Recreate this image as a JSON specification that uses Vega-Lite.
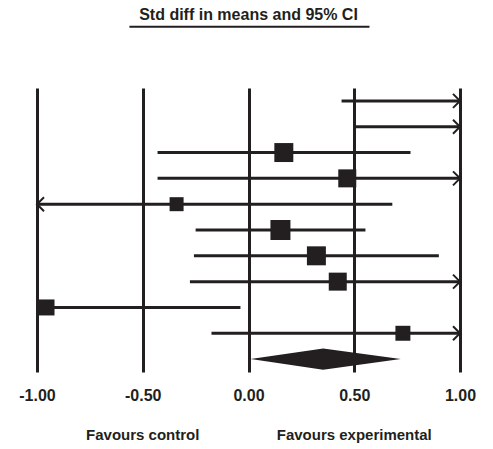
{
  "$schema": "https://vega.github.io/schema/vega-lite/v6.json",
  "width": 423,
  "height": 284,
  "autosize": {"type": "none"},
  "padding": {"left": 37, "top": 88, "right": 33, "bottom": 77},
  "background": "white",
  "config": {"view": {"stroke": null}, "font": "Liberation Sans"},
  "datasets": {
    "studies": [
      {"row": 1, "est": null, "lo": 0.44, "hi": 1.6, "w": null},
      {"row": 2, "est": null, "lo": 0.5, "hi": 1.6, "w": null},
      {"row": 3, "est": 0.167, "lo": -0.43, "hi": 0.766, "w": 9.0},
      {"row": 4, "est": 0.467, "lo": -0.43, "hi": 1.3, "w": 8.1},
      {"row": 5, "est": -0.34, "lo": -1.3, "hi": 0.68, "w": 4.9},
      {"row": 6, "est": 0.151, "lo": -0.25, "hi": 0.553, "w": 10.0},
      {"row": 7, "est": 0.321, "lo": -0.258, "hi": 0.9, "w": 9.0},
      {"row": 8, "est": 0.422, "lo": -0.277, "hi": 1.3, "w": 8.1},
      {"row": 9, "est": -0.955, "lo": -0.99, "hi": -0.038, "w": 6.4},
      {"row": 10, "est": 0.73, "lo": -0.175, "hi": 1.3, "w": 5.6}
    ],
    "summary": [
      {"x": 0.01, "top": 11, "bot": 11},
      {"x": 0.353, "top": 10.59, "bot": 11.41},
      {"x": 0.72, "top": 11, "bot": 11}
    ],
    "sides": [
      {"x": -0.5, "row": 13.94, "label": "Favours control"},
      {"x": 0.5, "row": 13.94, "label": "Favours experimental"}
    ],
    "heading": [
      {"x": 0.0, "row": -2.33, "label": "Std diff in means and 95% CI"}
    ],
    "underline": [
      {"x": -0.563, "x2": 0.572, "row": -1.87}
    ]
  },
  "layer": [
    {
      "data": {"name": "studies"},
      "mark": {"type": "rule", "strokeWidth": 3, "color": "#231f20"},
      "encoding": {
        "x": {
          "field": "lo", "type": "quantitative",
          "scale": {"domain": [-1, 1], "clamp": true, "nice": false, "zero": false},
          "axis": {
            "orient": "bottom",
            "values": [-1, -0.5, 0, 0.5, 1],
            "format": ".2f",
            "labelExpr": "replace(datum.label, '\u2212', '-')",
            "grid": true,
            "gridColor": "#231f20",
            "gridWidth": 3,
            "gridOpacity": 1,
            "domain": false,
            "ticks": false,
            "labelFontSize": 16,
            "labelFontWeight": "bold",
            "labelFont": "Liberation Sans",
            "labelColor": "#231f20",
            "labelPadding": 15,
            "labelFlush": false,
            "labelOverlap": false,
            "title": null
          }
        },
        "x2": {"field": "hi"},
        "y": {
          "field": "row", "type": "quantitative",
          "scale": {"domain": [0.5, 11.5], "reverse": true, "nice": false, "zero": false},
          "axis": null
        }
      }
    },
    {
      "data": {"name": "studies"},
      "mark": {"type": "point", "shape": "square", "filled": true, "opacity": 1, "color": "#231f20"},
      "encoding": {
        "x": {"field": "est", "type": "quantitative"},
        "y": {"field": "row", "type": "quantitative"},
        "size": {"field": "w", "type": "quantitative", "scale": {"domain": [0, 10], "range": [0, 400]}, "legend": null}
      }
    },
    {
      "data": {"name": "studies"},
      "transform": [{"filter": "datum.hi > 1"}],
      "mark": {"type": "point", "shape": "M-1,-1L0,0L-1,1", "filled": false, "size": 196, "strokeWidth": 2, "opacity": 1, "color": "#231f20"},
      "encoding": {
        "x": {"field": "hi", "type": "quantitative"},
        "y": {"field": "row", "type": "quantitative"}
      }
    },
    {
      "data": {"name": "studies"},
      "transform": [{"filter": "datum.lo < -1"}],
      "mark": {"type": "point", "shape": "M1,-1L0,0L1,1", "filled": false, "size": 196, "strokeWidth": 2, "opacity": 1, "color": "#231f20"},
      "encoding": {
        "x": {"field": "lo", "type": "quantitative"},
        "y": {"field": "row", "type": "quantitative"}
      }
    },
    {
      "data": {"name": "summary"},
      "mark": {"type": "area", "orient": "vertical", "color": "#231f20", "opacity": 1},
      "encoding": {
        "x": {"field": "x", "type": "quantitative"},
        "y": {"field": "top", "type": "quantitative"},
        "y2": {"field": "bot"}
      }
    },
    {
      "data": {"name": "sides"},
      "mark": {"type": "text", "fontSize": 15, "fontWeight": "bold", "font": "Liberation Sans", "align": "center", "baseline": "middle", "color": "#231f20"},
      "encoding": {
        "x": {"field": "x", "type": "quantitative"},
        "y": {"field": "row", "type": "quantitative"},
        "text": {"field": "label"}
      }
    },
    {
      "data": {"name": "heading"},
      "mark": {"type": "text", "fontSize": 16, "fontWeight": "bold", "font": "Liberation Sans", "align": "center", "baseline": "middle", "color": "#231f20"},
      "encoding": {
        "x": {"field": "x", "type": "quantitative"},
        "y": {"field": "row", "type": "quantitative"},
        "text": {"field": "label"}
      }
    },
    {
      "data": {"name": "underline"},
      "mark": {"type": "rule", "strokeWidth": 2, "color": "#231f20"},
      "encoding": {
        "x": {"field": "x", "type": "quantitative"},
        "x2": {"field": "x2"},
        "y": {"field": "row", "type": "quantitative"}
      }
    }
  ]
}
